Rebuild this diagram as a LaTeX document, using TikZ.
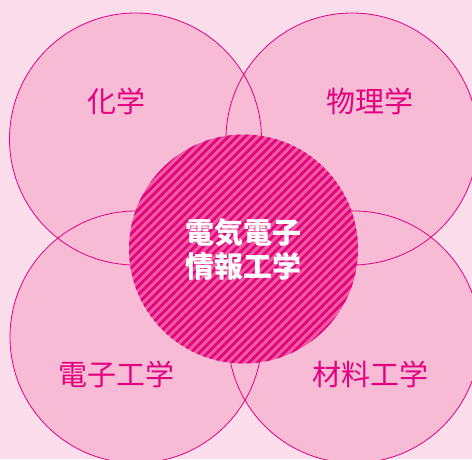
\documentclass[tikz,border=0pt]{standalone}
\usepackage{fontspec}
\newfontfamily\jp{Noto Sans CJK JP}
\usepackage{tikz}
\usetikzlibrary{positioning}
\definecolor{bgpink}{HTML}{FBDDEB}
\definecolor{areapink}{HTML}{F7BBD5}
\definecolor{deepmag}{HTML}{E4007F}
\definecolor{stripepink}{HTML}{EE5B9E}
\pgfdeclarelayer{filllayer}
\pgfsetlayers{filllayer,main}
\tikzset{field/.style={circle, draw=deepmag, line width=0.8pt, minimum size=252pt, inner sep=0pt}}
\tikzset{fieldname/.style={text=deepmag, font=\jp\fontsize{29}{34}\selectfont, inner sep=0pt}}
\tikzset{core/.style={circle, fill=stripepink, minimum size=229pt, inner sep=0pt}}
\tikzset{corename/.style={text=white, font=\jp\bfseries\fontsize{29}{34}\selectfont, align=center, inner sep=0pt}}

\begin{document}
\begin{tikzpicture}[x=1pt, y=-1pt]
        \useasboundingbox (0, 0) rectangle (472, 459);
        \clip (0, 0) rectangle (472, 459);
        \node [field] (chem) at (135.5, 139) {};
        \node [field] (phys) at (352, 139) {};
        \node [field] (elec) at (136, 337) {};
        \node [field] (matl) at (354, 337) {};
        \begin{pgfonlayer}{filllayer}
            \fill [bgpink] (0, 0) rectangle (472, 459);
            \fill [areapink] (chem.center) circle [radius=126pt];
            \fill [areapink] (phys.center) circle [radius=126pt];
            \fill [areapink] (elec.center) circle [radius=126pt];
            \fill [areapink] (matl.center) circle [radius=126pt];
        \end{pgfonlayer}
        \node [fieldname] (chemtxt) at (116.5, 101) {化学};
        \node [fieldname] (phystxt) at (370, 101) {物理学};
        \node [fieldname] (electxt) at (116.5, 374) {電子工学};
        \node [fieldname] (matltxt) at (370, 374) {材料工学};
        \node [core] (eie) at (243.5, 249) {};
        \begin{scope}
            \clip (eie.center) circle [radius=114.5pt];
            \foreach \s in {-272,-263.5,...,272}
                \draw [deepmag, line width=2.6pt] ([xshift=\s-140pt, yshift=-140pt]eie.center) -- ([xshift=\s+140pt, yshift=140pt]eie.center);
        \end{scope}
        \node [corename] (eietxt) at (eie.center) {電気電子\\情報工学};
    \end{tikzpicture}
\end{document}
